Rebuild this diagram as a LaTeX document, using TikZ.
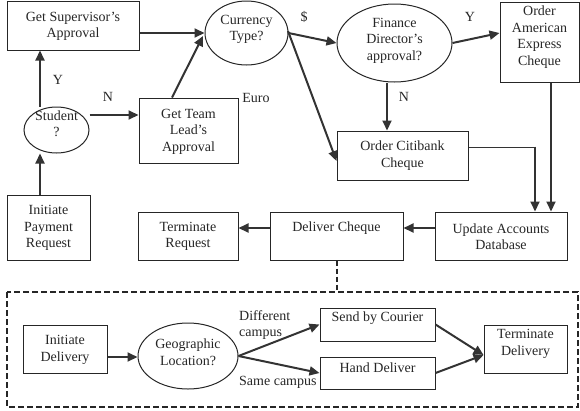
\documentclass[tikz,border=0pt]{standalone}
\usepackage{fontspec}
\setmainfont{Liberation Serif}
\usetikzlibrary{arrows.meta,shapes.geometric}
\begin{document}
\begin{tikzpicture}[x=1pt,y=-1pt,
  every node/.style={font=\fontsize{14}{16.5}\selectfont, text=black!85, align=center, inner sep=0pt},
  box/.style={draw=black!85, line width=1pt},
  ell/.style={draw=black!85, line width=1pt, ellipse},
  conn/.style={line width=2pt, draw=black!80, -{Triangle[length=10pt,width=9pt]}},
  thinconn/.style={line width=1pt, draw=black!80},
  lbl/.style={font=\fontsize{14}{16.5}\selectfont}]
\useasboundingbox (0,0) rectangle (580,410);
% shape x y w h name text textcentre-y
\newcommand{\bx}[7]{\node[box, minimum width=#3, minimum height=#4] (#5) at (#1,#2) {};
  \node (#5-t) at (#1,#7) {#6};}
\newcommand{\el}[7]{\node[ell, minimum width=#3, minimum height=#4] (#5) at (#1,#2) {};
  \node (#5-t) at (#1,#7) {#6};}
\bx{73}{25.5}{132}{49}{sup}{Get Supervisor's\\Approval}{26.5}
\bx{188.5}{130.5}{99}{65}{team}{Get Team\\Lead's\\Approval}{131.5}
\bx{48.5}{227.5}{83}{65}{init}{Initiate\\Payment\\Request}{228}
\bx{188}{236}{100}{48}{treq}{Terminate\\Request}{236.5}
\bx{336.5}{236}{133}{48}{deliv}{Deliver Cheque}{228}
\bx{501}{236}{132}{48}{upd}{Update Accounts\\Database}{236.5}
\bx{402.5}{155.5}{131}{49}{citi}{Order Citibank\\Cheque}{155.5}
\bx{539.5}{42}{79}{80}{amex}{Order\\American\\Express\\Cheque}{37}
\bx{65}{349}{84}{48}{idel}{Initiate\\Delivery}{350}
\bx{377.5}{324.5}{115}{33}{cour}{Send by Courier}{318}
\bx{377.5}{373}{115}{32}{hand}{Hand Deliver}{368}
\bx{525.5}{349}{83}{48}{tdel}{Terminate\\Delivery}{344}
\el{246.5}{33}{83}{64}{cur}{Currency\\Type?}{29.5}
\el{56.5}{130}{65}{46}{stu}{Student\\?}{123.5}
\el{394.5}{43}{115}{78}{fin}{Finance\\Director's\\approval?}{40.5}
\el{188}{356}{100}{66}{geo}{Geographic\\Location?}{352}
% dashed frame
\draw[line width=1.6pt, draw=black!85, dash pattern=on 6pt off 3pt] (7,292) rectangle (578,407);
\coordinate (fr) at (337,292);
% connectors
\draw[conn] (init.north -| 40,0) -- (stu.south -| 40,0);
\draw[conn] (stu.north -| 40,0) -- (sup.south -| 40,0);
\draw[conn] (stu.east |- 0,115) -- (team.west |- 0,115);
\draw[conn] (sup.east |- 0,33) -- (cur.west);
\draw[conn] (team.north -| 172,0) -- (203,36);
\draw[conn] (cur.east) -- (fin.west);
\draw[conn] (288,31) -- (citi.west |- 0,161);
\draw[conn] (fin.east) -- (amex.west |- 0,33);
\draw[conn] (fin.south -| 387,0) -- (citi.north -| 387,0);
\draw[thinconn] (citi.east |- 0,147) -- (535,147);
\draw[conn] (535,146.5) -- (upd.north -| 535,0);
\draw[conn] (amex.south -| 551,0) -- (upd.north -| 551,0);
\draw[conn] (upd.west |- 0,228) -- (deliv.east |- 0,228);
\draw[conn] (deliv.west |- 0,228) -- (treq.east |- 0,228);
\draw[line width=1.6pt, draw=black!85, dash pattern=on 5pt off 3pt] (deliv.south -| fr) -- (fr);
\draw[conn] (idel.east |- 0,357) -- (geo.west |- 0,357);
\draw[conn] (geo.east) -- (cour.west);
\draw[conn] (geo.east) -- (hand.west);
\draw[conn] (cour.east) -- ([yshift=-6pt]tdel.west);
\draw[conn] (hand.east) -- ([yshift=-6pt]tdel.west);
% labels
\node[lbl] (ly1) at (58,80) {Y};
\node[lbl] (ln1) at (108,97) {N};
\node[lbl] (ld) at (304,17) {\$};
\node[lbl] (le) at (256,98) {Euro};
\node[lbl] (ly2) at (470,17) {Y};
\node[lbl] (ln2) at (404,97) {N};
\node[lbl, align=left, anchor=west] (ldc) at (239,325) {Different\\campus};
\node[lbl, anchor=west] (lsc) at (239,382) {Same campus};
\end{tikzpicture}
\end{document}
